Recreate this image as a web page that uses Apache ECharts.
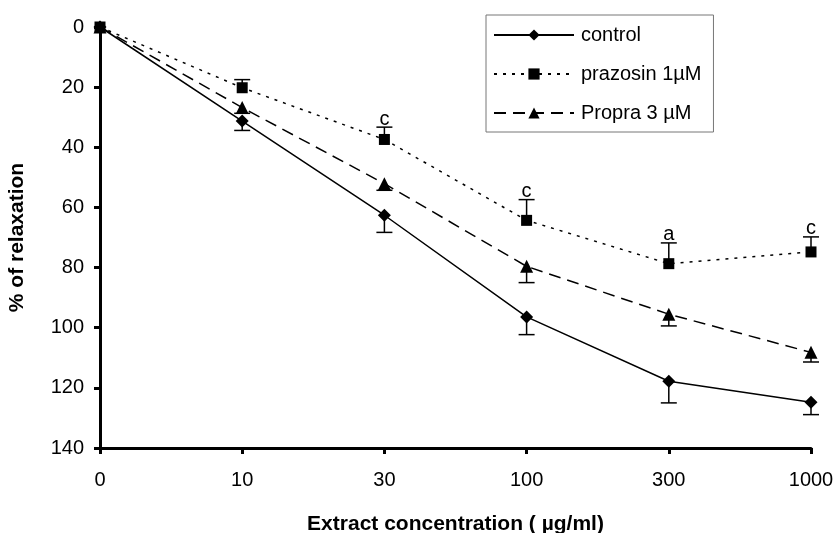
<!DOCTYPE html>
<html>
<head>
<meta charset="utf-8">
<script src="https://cdn.jsdelivr.net/npm/echarts@6/dist/echarts.min.js"></script>
<style>
  html, body { margin: 0; padding: 0; background: #fff; }
  #main { width: 834px; height: 533px; }
</style>
</head>
<body>
<div id="main"></div>
<script>
// concentrations (µg/ml)
const categories = ['0', '10', '30', '100', '300', '1000'];

// % of relaxation, mean values
const control = [0, 31.3, 62.6, 96.4, 117.8, 124.8];
const prazosin = [0, 20.2, 37.4, 64.3, 78.7, 74.8];
const propra = [0, 26.8, 52.1, 79.6, 95.5, 108.2];

// error bar sizes
const controlErr = [0, 3.1, 5.7, 5.9, 7.2, 4.1];
const prazosinErr = [0, 2.7, 4.1, 6.9, 6.9, 5.0];
const propraErr = [0, 1.9, 2.2, 5.4, 3.9, 3.2];

// significance letters on prazosin
const prazosinMarks = ['', '', 'c', 'c', 'a', 'c'];

const font = 'Liberation Sans, Arial, sans-serif';

// dir: +1 draws the bar towards larger values, -1 towards smaller
function errorSeries(name, mean, err, dir, marks) {
  return {
    name: name + ' err',
    type: 'custom',
    z: 3,
    silent: true,
    data: mean.map((v, i) => [i, v, err[i]]),
    renderItem: function (params, api) {
      const i = api.value(0);
      const m = api.value(1);
      const e = api.value(2);
      const txt = marks ? marks[i] : '';
      const p0 = api.coord([i, m]);
      const p1 = api.coord([i, m + dir * e]);
      const children = [];
      if (e > 0) {
        children.push({
          type: 'line',
          shape: { x1: p0[0], y1: p0[1], x2: p1[0], y2: p1[1] },
          style: { stroke: '#000', lineWidth: 1.5 }
        });
        children.push({
          type: 'line',
          shape: { x1: p1[0] - 8, y1: p1[1], x2: p1[0] + 8, y2: p1[1] },
          style: { stroke: '#000', lineWidth: 1.5 }
        });
      }
      if (txt) {
        children.push({
          type: 'text',
          style: {
            text: txt, x: p1[0], y: p1[1] + 2,
            align: 'center', verticalAlign: 'bottom',
            font: '20px ' + font, fill: '#000'
          }
        });
      }
      return { type: 'group', children: children };
    }
  };
}

const chart = echarts.init(document.getElementById('main'));

const option = {
  animation: false,
  backgroundColor: '#fff',
  grid: { left: 100, right: 23, top: 27, bottom: 85, outerBoundsMode: 'none' },
  legend: {
    orient: 'vertical',
    left: 486,
    top: 15,
    padding: [10, 12, 9, 7],
    itemGap: 19,
    itemWidth: 80,
    itemHeight: 14,
    borderColor: '#777',
    borderWidth: 1,
    data: ['control', 'prazosin 1µM', 'Propra 3 µM'],
    textStyle: { fontFamily: font, fontSize: 20, color: '#000', padding: [0, 0, 0, 2] }
  },
  xAxis: {
    type: 'category',
    position: 'bottom',
    data: categories,
    boundaryGap: false,
    name: 'Extract concentration ( µg/ml)',
    nameLocation: 'middle',
    nameGap: 66,
    nameTextStyle: { fontFamily: font, fontSize: 21, fontWeight: 'bold', color: '#000' },
    axisLine: { onZero: false, lineStyle: { color: '#000', width: 3 } },
    axisTick: { alignWithLabel: true, length: 6, lineStyle: { color: '#000', width: 3 } },
    axisLabel: { fontFamily: font, fontSize: 20, color: '#000', margin: 22 },
    splitLine: { show: false }
  },
  yAxis: {
    type: 'value',
    inverse: true,
    min: 0,
    max: 140,
    interval: 20,
    name: '% of relaxation',
    nameLocation: 'middle',
    nameGap: 72,
    nameTextStyle: { fontFamily: font, fontSize: 21, fontWeight: 'bold', color: '#000' },
    axisLine: { show: true, lineStyle: { color: '#000', width: 3 } },
    axisTick: { show: true, length: 6, lineStyle: { color: '#000', width: 3 } },
    axisLabel: { fontFamily: font, fontSize: 20, color: '#000', margin: 16 },
    splitLine: { show: false }
  },
  series: [
    {
      name: 'control',
      type: 'line',
      data: control,
      symbol: 'diamond',
      symbolSize: 13,
      z: 4,
      itemStyle: { color: '#000' },
      lineStyle: { color: '#000', width: 1.5, type: 'solid' }
    },
    {
      name: 'prazosin 1µM',
      type: 'line',
      data: prazosin,
      symbol: 'rect',
      symbolSize: 11,
      z: 4,
      itemStyle: { color: '#000' },
      lineStyle: { color: '#000', width: 1.5, type: [3, 6] }
    },
    {
      name: 'Propra 3 µM',
      type: 'line',
      data: propra,
      symbol: 'triangle',
      symbolSize: 13,
      z: 4,
      itemStyle: { color: '#000' },
      lineStyle: { color: '#000', width: 1.5, type: [12, 7] }
    },
    errorSeries('control', control, controlErr, 1),
    errorSeries('prazosin 1µM', prazosin, prazosinErr, -1, prazosinMarks),
    errorSeries('Propra 3 µM', propra, propraErr, 1)
  ]
};

chart.setOption(option);
</script>
</body>
</html>
